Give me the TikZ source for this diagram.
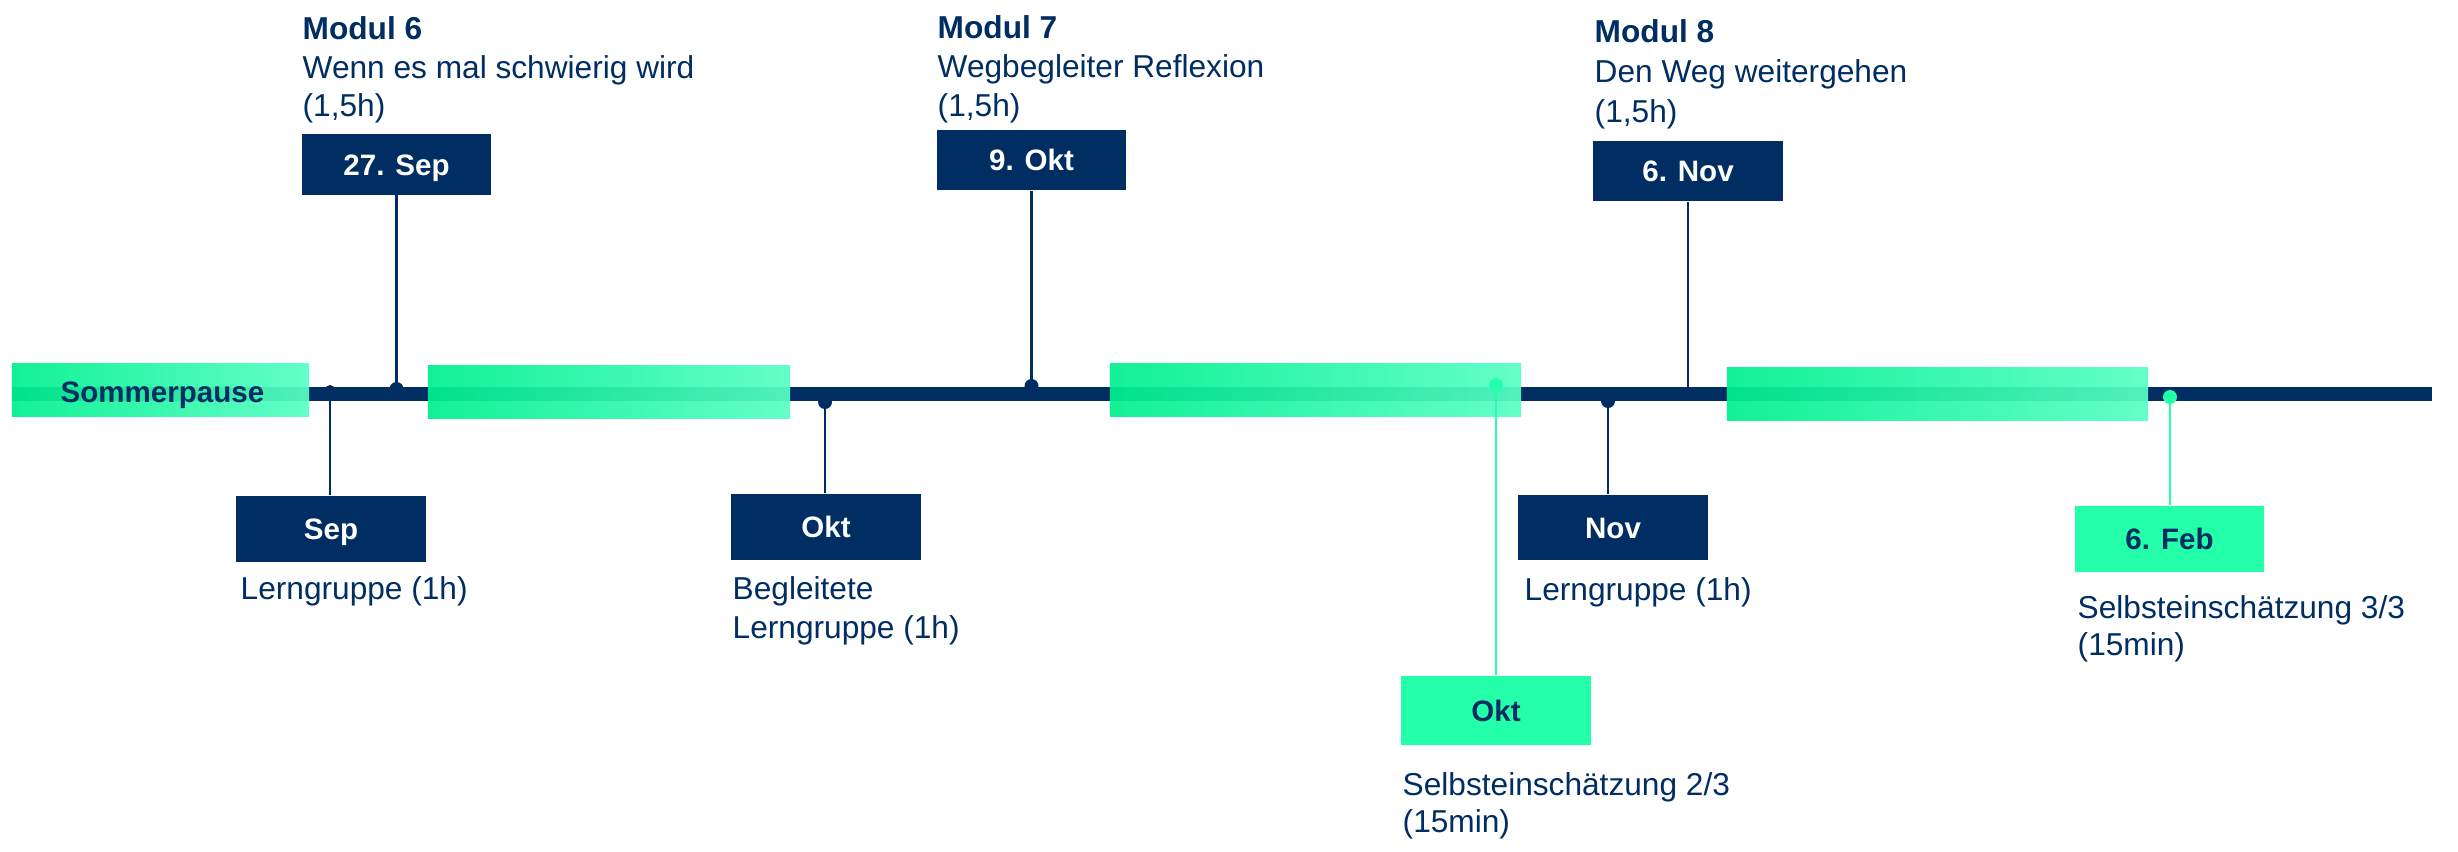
\documentclass[tikz,border=0pt]{standalone}
\usepackage{fontspec}
\setmainfont{Liberation Sans}
\definecolor{navy}{HTML}{002D62}
\definecolor{mint}{HTML}{24FFAA}
\definecolor{gradA}{HTML}{00F08E}
\definecolor{gradB}{HTML}{58FFC4}
\begin{document}
\begin{tikzpicture}[x=0.01cm,y=-0.01cm,
  lbl/.style={anchor=base west, inner sep=0, text=navy, font=\fontsize{9}{11}\selectfont},
  ttl/.style={anchor=base west, inner sep=0, text=navy, font=\fontsize{9}{11}\selectfont\bfseries},
  datebox/.style={fill=navy, text=white, font=\fontsize{8.4}{10}\selectfont\bfseries, minimum width=1.89cm, inner sep=0, text height=6pt, text depth=0pt},
  gbox/.style={fill=mint, text=navy, font=\fontsize{8.4}{10}\selectfont\bfseries, minimum width=1.89cm, inner sep=0, text height=6pt, text depth=0pt},
  bar/.style={left color=gradA, right color=gradB, opacity=0.93, inner sep=0, minimum height=0.52cm},
  pin/.style={draw=navy, line width=0.7pt},
  gpin/.style={draw=mint, line width=0.7pt},
  dot/.style={fill=navy},
  gdot/.style={fill=mint}
]
\useasboundingbox (0,0) rectangle (2458,851);

% main timeline
\coordinate (L0) at (12,394);
\coordinate (L1) at (2432,394);
\draw[navy, line width=4pt] (L0) -- (L1);

% gradient phases
\node[bar, minimum width=2.97cm] (g1) at (160.5,390) {};
\node[bar, minimum width=3.62cm] (g2) at (609,392) {};
\node[bar, minimum width=4.11cm] (g3) at (1315.5,390) {};
\node[bar, minimum width=4.21cm] (g4) at (1937.5,394) {};
\node[ttl, font=\fontsize{8.4}{10}\selectfont\bfseries] (sp) at (60,402.5) {Sommerpause};

% top events
\node[datebox, minimum height=0.60cm] (d27) at (396.5,164.5) {27. Sep};
\node[datebox, minimum height=0.60cm] (d9) at (1031.5,160) {9. Okt};
\node[datebox, minimum height=0.60cm] (d6) at (1688,171) {6. Nov};

\coordinate (p27) at (396.5,389);
\coordinate (p9) at (1031.5,386);
\coordinate (p6) at (1688,401);
\draw[pin] (d27.south) -- (p27);
\draw[pin] (d9.south) -- (p9);
\draw[pin] (d6.south) -- (p6);
\fill[dot] (p27) circle[radius=0.07cm];
\fill[dot] (p9) circle[radius=0.07cm];

\node[ttl] (m6t) at (302,39) {Modul 6};
\node[lbl] (m6d) at (302,78) {Wenn es mal schwierig wird};
\node[lbl] (m6h) at (302,116) {(1,5h)};
\node[ttl] (m7t) at (937,38) {Modul 7};
\node[lbl] (m7d) at (937,77) {Wegbegleiter Reflexion};
\node[lbl] (m7h) at (937,116) {(1,5h)};
\node[ttl] (m8t) at (1594,42) {Modul 8};
\node[lbl] (m8d) at (1594,82) {Den Weg weitergehen};
\node[lbl] (m8h) at (1594,122) {(1,5h)};

% bottom events
\node[datebox, minimum height=0.66cm] (bsep) at (331,529) {Sep};
\node[datebox, minimum height=0.66cm] (bokt) at (826,527) {Okt};
\node[datebox, minimum height=0.65cm] (bnov) at (1613,527.5) {Nov};
\node[gbox, minimum height=0.69cm] (gokt) at (1496,710.5) {Okt};
\node[gbox, minimum height=0.66cm] (gfeb) at (2169.5,539) {6. Feb};

\coordinate (qsep) at (330,390);
\coordinate (qokt) at (825,402);
\coordinate (qnov) at (1608,401);
\coordinate (qgokt) at (1496,385);
\coordinate (qgfeb) at (2170,397);
\draw[pin] (qsep) -- (qsep |- bsep.north);
\draw[pin] (qokt) -- (qokt |- bokt.north);
\draw[pin] (qnov) -- (qnov |- bnov.north);
\draw[gpin] (qgokt) -- (qgokt |- gokt.north);
\draw[gpin] (qgfeb) -- (qgfeb |- gfeb.north);
\fill[dot] (qsep) circle[radius=0.05cm];
\fill[dot] (qokt) circle[radius=0.07cm];
\fill[dot] (qnov) circle[radius=0.07cm];
\fill[gdot] (qgokt) circle[radius=0.07cm];
\fill[gdot] (qgfeb) circle[radius=0.07cm];

\node[lbl] (lsep) at (240,599) {Lerngruppe (1h)};
\node[lbl] (lokt1) at (732,599) {Begleitete};
\node[lbl] (lokt2) at (732,638) {Lerngruppe (1h)};
\node[lbl] (lnov) at (1524,600) {Lerngruppe (1h)};
\node[lbl] (lg1) at (1402,795) {Selbsteinschätzung 2/3};
\node[lbl] (lg2) at (1402,832) {(15min)};
\node[lbl] (lf1) at (2077,618) {Selbsteinschätzung 3/3};
\node[lbl] (lf2) at (2077,655) {(15min)};
\end{tikzpicture}
\end{document}
